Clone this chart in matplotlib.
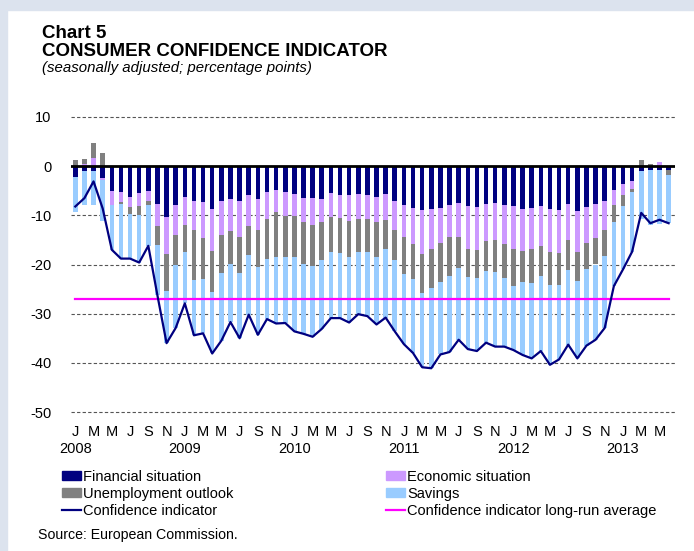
import numpy as np
import matplotlib
matplotlib.use("Agg")
import matplotlib.pyplot as plt
from matplotlib.patches import Patch, Rectangle
from matplotlib.lines import Line2D

plt.rcParams['font.family'] = ['Liberation Sans', 'DejaVu Sans']
plt.rcParams['axes.unicode_minus'] = False

# monthly data, Jan 2008 - Jun 2013
months = ['J', 'F', 'M', 'A', 'M', 'J', 'J', 'A', 'S', 'O', 'N', 'D'] * 6
months = months[:66]
years = ['2008', '2009', '2010', '2011', '2012', '2013']

financial = [-2.2, -0.9, -0.9, -2.4, -5.1, -5.3, -6.3, -5.4, -5.1, -7.6, -10.3, -7.9,
             -6.3, -7.0, -7.2, -8.8, -7.0, -6.6, -7.0, -5.9, -6.6, -5.3, -4.8, -5.3,
             -5.7, -6.4, -6.4, -6.6, -5.5, -5.9, -5.9, -5.7, -5.9, -6.2, -5.7, -7.0,
             -7.9, -8.6, -8.9, -8.8, -8.6, -8.0, -7.4, -8.2, -8.4, -7.6, -7.4, -8.0,
             -8.2, -8.8, -8.6, -8.2, -8.8, -8.9, -7.6, -9.2, -8.4, -7.6, -7.0, -4.9,
             -3.6, -3.0, -1.0, -0.8, -0.8, -0.8]
economic = [0.0, 0.5, 1.6, -0.5, -2.9, -2.0, -2.1, -2.8, -2.0, -4.6, -7.5, -6.1,
            -5.7, -5.9, -7.5, -8.5, -7.1, -6.6, -7.5, -6.2, -6.4, -5.4, -4.6, -4.8,
            -4.5, -5.0, -5.6, -4.7, -4.8, -4.7, -5.2, -5.0, -4.8, -5.2, -5.3, -6.0,
            -6.6, -7.2, -8.9, -8.0, -7.1, -6.4, -7.0, -8.6, -8.7, -7.7, -7.6, -7.8,
            -8.6, -8.5, -8.3, -8.1, -8.6, -8.7, -7.5, -8.2, -7.2, -7.1, -5.9, -3.1,
            -2.3, -1.6, 0.0, 0.0, 0.8, 0.0]
unemployment = [1.2, 0.9, 3.2, 2.6, 0.0, -0.3, -1.3, -1.7, -0.9, -3.9, -7.6, -6.0,
                -5.5, -10.3, -8.3, -8.2, -7.7, -6.7, -7.3, -6.0, -7.5, -8.2, -9.1, -8.3,
                -8.2, -8.4, -8.3, -7.8, -7.2, -7.1, -7.3, -6.8, -6.8, -7.1, -5.8, -6.1,
                -7.5, -7.2, -7.9, -7.9, -7.9, -8.0, -6.3, -5.7, -5.6, -6.1, -6.5, -7.0,
                -7.6, -6.2, -6.9, -6.1, -6.8, -6.5, -6.1, -6.0, -5.3, -5.3, -5.3, -3.4,
                -2.2, -0.7, 1.2, 0.4, 0.0, -0.9]
savings = [-7.2, -7.0, -7.0, -8.3, -9.0, -11.2, -9.1, -9.7, -8.2, -10.2, -10.6, -12.9,
           -10.4, -11.1, -11.0, -12.6, -13.7, -11.8, -13.2, -12.1, -13.8, -12.2, -13.5, -13.5,
           -15.2, -14.3, -14.4, -14.0, -13.4, -13.2, -13.4, -12.6, -13.0, -13.7, -14.0, -14.5,
           -14.2, -15.0, -15.2, -16.4, -14.7, -15.4, -14.6, -14.7, -14.9, -14.5, -15.2, -13.9,
           -13.0, -14.9, -15.3, -15.2, -16.2, -15.2, -15.1, -15.7, -15.6, -15.3, -14.7, -13.0,
           -12.9, -12.1, -9.7, -11.2, -10.9, -9.9]
confidence = [-8.2, -6.5, -3.1, -8.6, -17.0, -18.8, -18.8, -19.6, -16.2, -26.3, -36.0, -32.9,
              -27.9, -34.4, -34.0, -38.1, -35.5, -31.7, -35.0, -30.2, -34.3, -31.1, -32.0, -31.9,
              -33.6, -34.1, -34.7, -33.1, -30.9, -30.9, -31.8, -30.1, -30.5, -32.2, -30.8, -33.6,
              -36.2, -38.0, -40.9, -41.1, -38.3, -37.8, -35.3, -37.2, -37.6, -35.9, -36.7, -36.7,
              -37.4, -38.4, -39.1, -37.6, -40.4, -39.3, -36.3, -39.1, -36.5, -35.3, -32.9, -24.4,
              -21.0, -17.4, -9.5, -11.6, -10.9, -11.6]
long_run_avg = -27.1

series = [financial, economic, unemployment, savings]
names = ['Financial situation', 'Economic situation', 'Unemployment outlook', 'Savings']
colors = ['#000080', '#CC99FF', '#808080', '#99CCFF']

W, H = 694, 551
fig = plt.figure(figsize=(W / 100, H / 100), dpi=100)
fig.patch.set_facecolor('white')
# light frame strips at top and left
fig.patches.append(Rectangle((0, 1 - 10 / H), 1, 10 / H, transform=fig.transFigure,
                             color='#DCE3EE', zorder=0))
fig.patches.append(Rectangle((0, 0), 7 / W, 1, transform=fig.transFigure,
                             color='#DCE3EE', zorder=0))

ax = fig.add_axes([71 / W, 1 - 412 / H, 604 / W, 295 / H])
x = np.arange(len(months))

pos = np.zeros(len(x))
neg = np.zeros(len(x))
for vals, col in zip(series, colors):
    v = np.array(vals)
    bottom = np.where(v >= 0, pos, neg)
    ax.bar(x, v, bottom=bottom, width=0.5, color=col, zorder=2, linewidth=0)
    pos = pos + np.where(v >= 0, v, 0)
    neg = neg + np.where(v < 0, v, 0)

ax.plot(x, confidence, color='#000080', lw=1.6, zorder=4)
ax.plot([x[0], x[-1]], [long_run_avg, long_run_avg], color='#FF00FF', lw=1.6, zorder=3)
ax.axhline(0, color='black', lw=2, zorder=5)

ax.set_xlim(-0.47, 65.7)
ax.set_ylim(-50, 10)
ax.set_yticks(range(-50, 11, 10))
for yv in range(-50, 11, 10):
    if yv != 0:
        ax.axhline(yv, color='#555555', lw=0.8, ls=(0, (3, 2)), zorder=1, clip_on=False)

ax.set_xticks(x[::2])
ax.set_xticklabels(months[::2], fontsize=10.5)
for i, yr in enumerate(years):
    ax.text(i * 12, -37 / 295, yr, transform=ax.get_xaxis_transform(),
            ha='center', va='center', fontsize=10.5)
ax.tick_params(axis='both', length=0, labelsize=10.5)
ax.tick_params(axis='x', pad=9.5)
ax.tick_params(axis='y', pad=14)
for s in ax.spines.values():
    s.set_visible(False)

fig.text(42 / W, 1 - 33 / H, 'Chart 5', fontsize=13.5, fontweight='bold', va='center')
fig.text(42 / W, 1 - 52 / H, 'CONSUMER CONFIDENCE INDICATOR', fontsize=13.5,
         fontweight='bold', va='center')
fig.text(42 / W, 1 - 68 / H, '(seasonally adjusted; percentage points)', fontsize=10.8,
         style='italic', va='center')
fig.text(38 / W, 1 - 535 / H, 'Source: European Commission.', fontsize=10.2, va='center')

h = [Patch(color=c) for c in colors]
left_h = [h[0], h[2], Line2D([], [], color='#000080', lw=1.6)]
left_l = [names[0], names[2], 'Confidence indicator']
right_h = [h[1], h[3], Line2D([], [], color='#FF00FF', lw=1.6)]
right_l = [names[1], names[3], 'Confidence indicator long-run average']
kw = dict(frameon=False, fontsize=10.5, handlelength=1.3, handleheight=0.6,
          handletextpad=0.15, labelspacing=0.2, borderpad=0, borderaxespad=0)
fig.legend(left_h, left_l, loc='upper left', bbox_to_anchor=(62 / W, 1 - 470 / H), **kw)
fig.legend(right_h, right_l, loc='upper left', bbox_to_anchor=(386 / W, 1 - 470 / H), **kw)

fig.savefig('out.png', dpi=100)
